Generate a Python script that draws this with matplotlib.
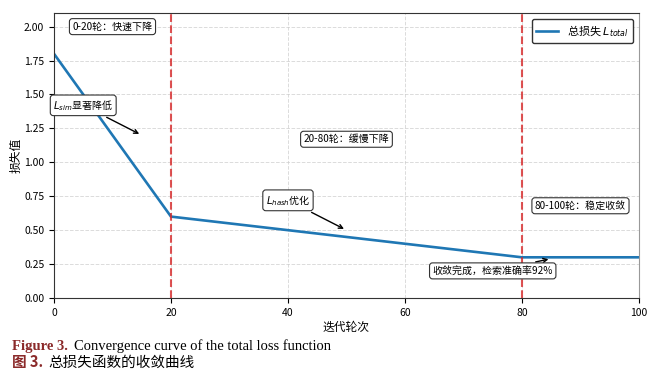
import numpy as np
import matplotlib
matplotlib.use("Agg")
import matplotlib.pyplot as plt

plt.rcParams['font.family'] = ['Noto Sans CJK SC', 'DejaVu Sans']
plt.rcParams['mathtext.fontset'] = 'dejavusans'
plt.rcParams['axes.unicode_minus'] = False

# data
epochs = [0, 20, 80, 100]
loss = [1.8, 0.6, 0.3, 0.3]
stage_lines = [20, 80]

# stage labels (x, y, text)
stage_x = [10, 50, 90]
stage_y = [2.0, 1.17, 0.68]
stage_text = ['0-20轮：快速下降', '20-80轮：缓慢下降', '80-100轮：稳定收敛']

# arrow notes: text pos -> arrow tip
note_text = ['$L_{sim}$显著降低', '$L_{hash}$优化', '收敛完成，检索准确率92%']
note_xy = [(15, 1.2), (50, 0.5), (85, 0.29)]
note_xytext = [(5, 1.42), (40, 0.72), (75, 0.2)]

fig = plt.figure(figsize=(6.64, 3.73), dpi=100)
ax = fig.add_axes([0.0813, 0.201, 0.881, 0.764])

ax.plot(epochs, loss, color='#1f77b4', lw=1.9, label='总损失 $L_{total}$')
for x in stage_lines:
    ax.axvline(x, color='#d62728', ls='--', lw=1.5, alpha=0.8)

box = dict(boxstyle='round,pad=0.3', fc='white', ec='#333333', lw=0.8)
for x, y, t in zip(stage_x, stage_y, stage_text):
    ax.text(x, y, t, ha='center', va='center', fontsize=7.2, bbox=box)

for t, xy, xyt in zip(note_text, note_xy, note_xytext):
    ax.annotate(t, xy=xy, xytext=xyt, ha='center', va='center', fontsize=7.2,
                bbox=box, arrowprops=dict(arrowstyle='->', color='black', lw=1))

ax.set_xlim(0, 100)
ax.set_ylim(0, 2.1)
ax.set_xticks([0, 20, 40, 60, 80, 100])
ax.set_yticks(np.arange(0, 2.01, 0.25))
ax.set_yticklabels(['%.2f' % v for v in np.arange(0, 2.01, 0.25)])
ax.tick_params(labelsize=7.5)
ax.grid(True, ls='--', color='#cccccc', alpha=0.7, lw=0.7)
ax.set_xlabel('迭代轮次', fontsize=8.5, labelpad=2)
ax.set_ylabel('损失值', fontsize=8.5, labelpad=1)
ax.legend(loc='upper right', fontsize=8, fancybox=True, edgecolor='#333333',
          framealpha=1)
for s in ax.spines.values():
    s.set_color('#333333')
ax.spines['right'].set_color('#999999')

# caption
red = '#8b2a2a'
fig.text(0.018, 0.062, 'Figure 3.', color=red, fontsize=10.5, fontweight='bold',
         family='Liberation Serif', va='baseline')
fig.text(0.112, 0.062, 'Convergence curve of the total loss function', color='black',
         fontsize=10.5, family='Liberation Serif', va='baseline')
fig.text(0.018, 0.016, '图 3.', color=red, fontsize=10.5, fontweight='bold',
         family=['Noto Sans CJK SC', 'Liberation Serif'], va='baseline')
fig.text(0.073, 0.016, '总损失函数的收敛曲线', color='black', fontsize=10.5,
         family=['Noto Sans CJK SC'], va='baseline')

fig.savefig('out.png', dpi=100)
